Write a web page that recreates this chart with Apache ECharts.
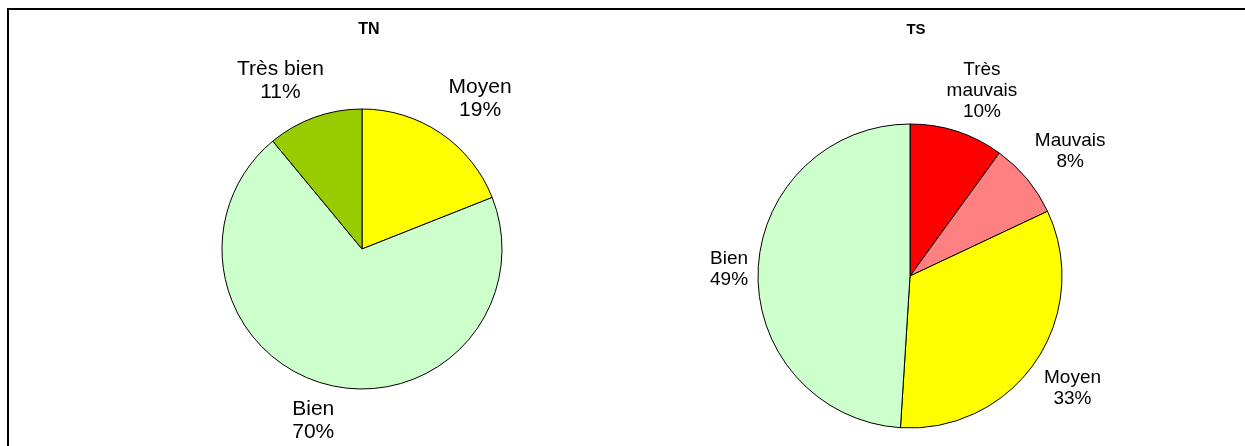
<!DOCTYPE html>
<html>
<head>
<meta charset="utf-8">
<script src="https://cdn.jsdelivr.net/npm/echarts@6/dist/echarts.min.js"></script>
<style>
  html, body { margin: 0; padding: 0; background: #fff; }
  #chart { width: 1245px; height: 446px; }
</style>
</head>
<body>
<div id="chart"></div>
<script>
// TN pie
const tnNames = ['Moyen', 'Bien', 'Très bien'];
const tnValues = [19, 70, 11];
const tnColors = ['#FFFF00', '#CCFFCC', '#99CC00'];

// TS pie
const tsNames = ['Très mauvais', 'Mauvais', 'Moyen', 'Bien'];
const tsValues = [10, 8, 33, 49];
const tsColors = ['#FF0000', '#FF8080', '#FFFF00', '#CCFFCC'];

// label sits just off the slice's mid angle, box pushed away from the pie
function sliceLabelLayout(values, cx, cy, r, gap) {
    const total = values.reduce((a, b) => a + b, 0);
    return function (params) {
        let cum = 0;
        for (let i = 0; i < params.dataIndex; i++) cum += values[i];
        const ang = (cum + values[params.dataIndex] / 2) / total * Math.PI * 2;
        const sx = Math.sin(ang), sy = -Math.cos(ang);
        const w = params.labelRect.width, h = params.labelRect.height;
        const R = r + gap;
        const fx = Math.min(1, 2 * Math.abs(sx)), fy = Math.min(1, 2 * Math.abs(sy));
        return {
            x: cx + sx * R + Math.sign(sx) * w / 2 * fx,
            y: cy + sy * R + Math.sign(sy) * h / 2 * fy,
            align: 'center',
            verticalAlign: 'middle'
        };
    };
}

function pieData(names, values, colors) {
    return names.map((n, i) => ({ name: n, value: values[i], itemStyle: { color: colors[i] } }));
}

const chart = echarts.init(document.getElementById('chart'), null, { renderer: 'canvas' });

const option = {
    animation: false,
    backgroundColor: '#fff',
    title: [
        {
            text: 'TN', left: 364, top: 17, textAlign: 'center',
            textStyle: { fontFamily: 'Liberation Sans', fontSize: 16, fontWeight: 'bold', color: '#000' }
        },
        {
            text: 'TS', left: 911, top: 17, textAlign: 'center',
            textStyle: { fontFamily: 'Liberation Sans', fontSize: 15, fontWeight: 'bold', color: '#000' }
        }
    ],
    graphic: [
        { type: 'line', shape: { x1: 7, y1: 9, x2: 1245, y2: 9 }, style: { stroke: '#000', lineWidth: 2 } },
        { type: 'line', shape: { x1: 8, y1: 8, x2: 8, y2: 446 }, style: { stroke: '#000', lineWidth: 2 } }
    ],
    series: [
        {
            type: 'pie',
            center: [362, 249],
            radius: 140,
            startAngle: 90,
            clockwise: true,
            avoidLabelOverlap: false,
            itemStyle: { borderColor: '#000', borderWidth: 1 },
            label: {
                show: true,
                position: 'outside',
                formatter: '{b}\n{c}%',
                fontFamily: 'Liberation Sans',
                fontSize: 21,
                lineHeight: 23,
                color: '#000'
            },
            labelLine: { show: false },
            labelLayout: sliceLabelLayout(tnValues, 362, 249, 140, 14),
            emphasis: { disabled: true },
            data: pieData(tnNames, tnValues, tnColors)
        },
        {
            type: 'pie',
            center: [910, 276],
            radius: 152,
            startAngle: 90,
            clockwise: true,
            avoidLabelOverlap: false,
            itemStyle: { borderColor: '#000', borderWidth: 1 },
            label: {
                show: true,
                position: 'outside',
                formatter: function (p) { return p.name.replace(' ', '\n') + '\n' + p.value + '%'; },
                fontFamily: 'Liberation Sans',
                fontSize: 19,
                lineHeight: 21,
                color: '#000'
            },
            labelLine: { show: false },
            labelLayout: sliceLabelLayout(tsValues, 910, 276, 152, 10),
            emphasis: { disabled: true },
            data: pieData(tsNames, tsValues, tsColors)
        }
    ]
};

chart.setOption(option);
</script>
</body>
</html>
